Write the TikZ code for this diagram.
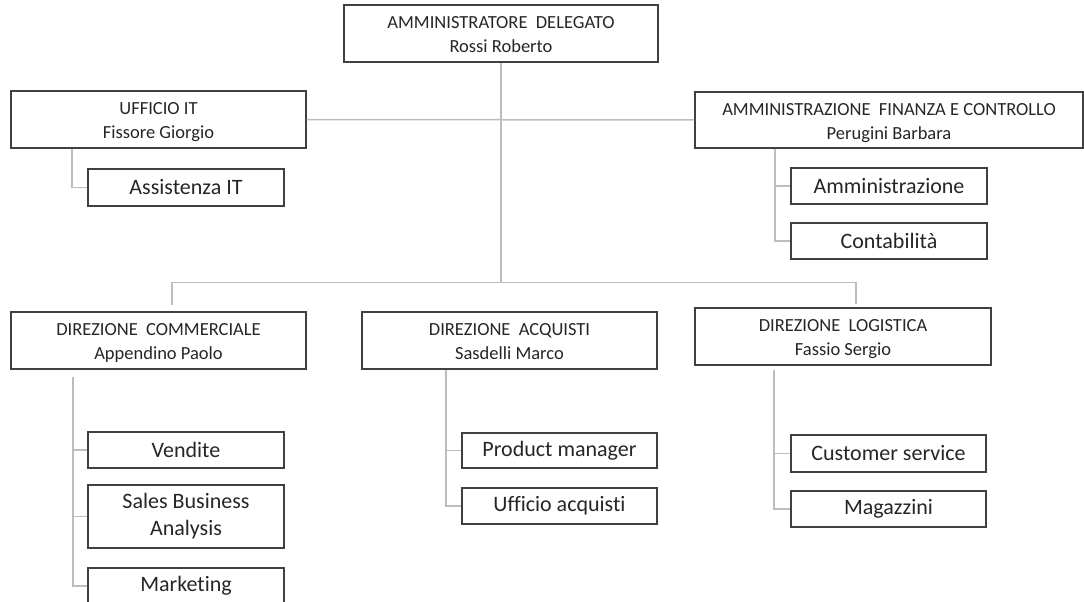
\documentclass[tikz,border=0pt]{standalone}
\usepackage{fontspec}
\setmainfont{Carlito}[Ligatures=NoCommon]
\definecolor{boxc}{HTML}{404040}
\definecolor{linec}{HTML}{BDBDBD}
\definecolor{txt}{HTML}{262626}
\newcommand\wsp{\hspace{0.45em}}
% two-line heading, set a little below the box centre
\newcommand\hd[2]{\raisebox{-2.5pt}[\height][\depth]{\begin{tabular}{@{}c@{}}#1\\#2\end{tabular}}}
\tikzset{
  head/.style={draw=boxc, line width=1.3pt, minimum height=57pt, inner sep=0pt,
    text=txt, font=\fontsize{18.5}{24}\selectfont},
  unit/.style={draw=boxc, line width=1.3pt, inner sep=0pt, align=center,
    text=txt, font=\fontsize{22}{27}\selectfont},
  link/.style={draw=linec, line width=1.5pt}
}
\begin{document}
\begin{tikzpicture}[x=1pt, y=-1pt]
\clip (0,0) rectangle (1084,602);
\fill[white] (0,0) rectangle (1084,602);

% top management
\node[head, minimum width=314pt] (ad) at (501,33.5) {\hd{AMMINISTRATORE\wsp DELEGATO}{Rossi Roberto}};
\node[head, minimum width=295pt] (it) at (158.5,119.5) {\hd{UFFICIO IT}{Fissore Giorgio}};
\node[head, minimum width=388pt, minimum height=56pt] (afc) at (889,120) {\hd{AMMINISTRAZIONE\wsp FINANZA E CONTROLLO}{Perugini Barbara}};

% directorates
\node[head, minimum width=295pt] (com) at (158.5,340.5) {\hd{DIREZIONE\wsp COMMERCIALE}{Appendino Paolo}};
\node[head, minimum width=295pt] (acq) at (509.5,340.5) {\hd{DIREZIONE\wsp ACQUISTI}{Sasdelli Marco}};
\node[head, minimum width=296pt] (log) at (843,336.5) {\hd{DIREZIONE\wsp LOGISTICA}{Fassio Sergio}};

% offices
\node[unit, minimum width=196pt, minimum height=37pt] (assist) at (186,187.5) {Assistenza IT};
\node[unit, minimum width=196pt, minimum height=36pt] (amm) at (889,186) {Amministrazione};
\node[unit, minimum width=196pt, minimum height=36pt] (cont) at (889,241) {Contabilità};
\node[unit, minimum width=196pt, minimum height=36pt] (vend) at (186,450) {Vendite};
\node[unit, minimum width=196pt, minimum height=63pt] (sba) at (186,516.5) {Sales Business\\Analysis};
\node[unit, minimum width=196pt, minimum height=36pt] (mkt) at (186,586) {Marketing};
\node[unit, minimum width=195pt, minimum height=35pt] (pm) at (559.5,450.5) {Product manager};
\node[unit, minimum width=195pt, minimum height=36pt] (uacq) at (559.5,506) {Ufficio acquisti};
\node[unit, minimum width=195pt, minimum height=37pt] (cs) at (888.5,453.5) {Customer service};
\node[unit, minimum width=195pt, minimum height=36pt] (mag) at (888.5,509) {Magazzini};

% main spine and staff line
\coordinate (bus) at (500,283);
\draw[link] (ad.south) -- (ad.south |- bus);
\draw[link] (it.east) -- (afc.west);
\draw[link] ([xshift=13.5pt, yshift=6pt]com.north) -- ++(0,-23) -| ([xshift=13pt, yshift=3pt]log.north);

% office branches
\coordinate (itT) at ([xshift=-86.5pt]it.south);
\draw[link] (itT) |- (assist.west);

\coordinate (afcT) at ([xshift=-114pt]afc.south);
\draw[link] (afcT) |- (amm.west);
\draw[link] (afcT) |- (cont.west);

\coordinate (comT) at ([xshift=-85.5pt, yshift=-7pt]com.south);
\draw[link] (comT) |- (vend.west);
\draw[link] (comT) |- (sba.west);
\draw[link] (comT) |- (mkt.west);

\coordinate (acqT) at ([xshift=-63.5pt]acq.south);
\draw[link] (acqT) |- (pm.west);
\draw[link] (acqT) |- (uacq.west);

\coordinate (logT) at ([xshift=-69pt, yshift=-4pt]log.south);
\draw[link] (logT) |- (cs.west);
\draw[link] (logT) |- (mag.west);
\end{tikzpicture}
\end{document}
